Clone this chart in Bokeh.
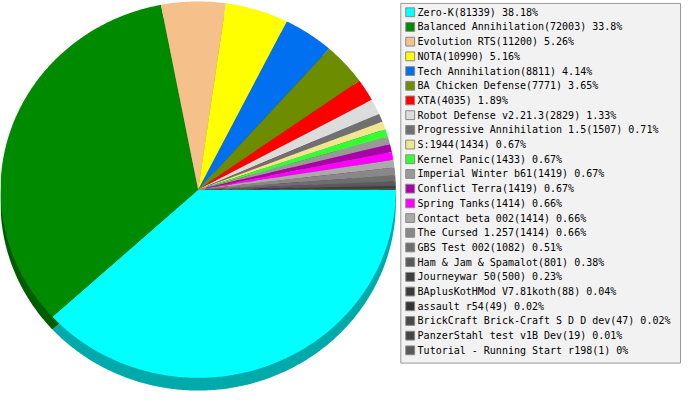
import numpy as np
from bokeh.plotting import figure
from bokeh.models import Range1d, ColumnDataSource
from bokeh.core.properties import value
from bokeh.embed import file_html
from bokeh.resources import INLINE

names = ["Zero-K", "Balanced Annihilation", "Evolution RTS", "NOTA", "Tech Annihilation",
         "BA Chicken Defense", "XTA", "Robot Defense v2.21.3", "Progressive Annihilation 1.5",
         "S:1944", "Kernel Panic", "Imperial Winter b61", "Conflict Terra", "Spring Tanks",
         "Contact beta 002", "The Cursed 1.257", "GBS Test 002", "Ham & Jam &  Spamalot",
         "Journeywar 50", "BAplusKotHMod V7.81koth", "assault r54",
         "BrickCraft Brick-Craft S D D dev", "PanzerStahl test v1B Dev",
         "Tutorial - Running Start r198"]
counts = [81339, 72003, 11200, 10990, 8811, 7771, 4035, 2829, 1507, 1434, 1433, 1419, 1419,
          1414, 1414, 1414, 1082, 801, 500, 88, 49, 47, 19, 1]
percents = ["38.18%", "33.8%", "5.26%", "5.16%", "4.14%", "3.65%", "1.89%", "1.33%", "0.71%",
            "0.67%", "0.67%", "0.67%", "0.67%", "0.66%", "0.66%", "0.66%", "0.51%", "0.38%",
            "0.23%", "0.04%", "0.02%", "0.02%", "0.01%", "0%"]
colors = ["#00FFFF", "#008A00", "#F5C089", "#FFFF00", "#0070F0", "#6E8C00", "#FF0000",
          "#DCDCDC", "#707070", "#F0E68C", "#33FF33", "#999999", "#AA00AA", "#FF00FF",
          "#AAAAAA", "#888888", "#6E6E6E", "#5A5A5A", "#404040", "#3A3A3A", "#333333",
          "#4A4A4A", "#454545", "#5A5A5A"]

W, H = 689, 400
p = figure(width=681, height=392, x_range=Range1d(0, W), y_range=Range1d(0, H),
           output_backend="svg", toolbar_location=None, min_border=0)
p.axis.visible = False
p.grid.visible = False
p.outline_line_color = None
p.background_fill_color = "white"
p.border_fill_color = "white"

cx, cy = 200, H - 193
rx, ry = 200, 192
depth = 13

vals = np.array(counts, dtype=float)
frac = vals / vals.sum()
cum = np.concatenate([[0], np.cumsum(frac)])


def darken(c, f=0.67):
    r, g, b = int(c[1:3], 16), int(c[3:5], 16), int(c[5:7], 16)
    return "#%02x%02x%02x" % (int(r * f), int(g * f), int(b * f))


def slice_polys(ccx, ccy):
    xs, ys = [], []
    for i in range(len(vals)):
        a0, a1 = -2 * np.pi * cum[i], -2 * np.pi * cum[i + 1]
        n = max(2, int(abs(a1 - a0) / 0.01) + 2)
        t = np.linspace(a0, a1, n)
        xs.append(list(np.concatenate([[ccx], ccx + rx * np.cos(t)])))
        ys.append(list(np.concatenate([[ccy], ccy + ry * np.sin(t)])))
    return xs, ys


sx, sy = slice_polys(cx, cy - depth)
p.patches(sx, sy, fill_color=[darken(c) for c in colors], line_color=None)
fx, fy = slice_polys(cx, cy)
p.patches(fx, fy, fill_color=colors, line_color=None)

# legend box
lx0, lx1, ly0, ly1 = 405, 688, 3, 370
p.quad(left=lx0, right=lx1, top=H - ly0, bottom=H - ly1, fill_color="#F2F2F2",
       line_color="#999999", line_width=1)
rows = np.arange(len(names))
yc = H - (12 + 15 * rows)
labels = ["%s(%d) %s" % (n, c, pc) for n, c, pc in zip(names, counts, percents)]
src = ColumnDataSource(dict(x=[414.5] * len(names), y=yc, c=colors,
                            tx=[422] * len(names), label=labels))
p.rect(x="x", y="y", width=9, height=9, fill_color="c", line_color="#8a8a8a",
       line_width=1, source=src)
p.text(x="tx", y="y", text="label", text_font=value("DejaVu Sans Mono"),
       text_font_size="10px", text_baseline="middle", text_color="#000000", source=src)

open("out.html", "w").write(file_html(p, INLINE))
